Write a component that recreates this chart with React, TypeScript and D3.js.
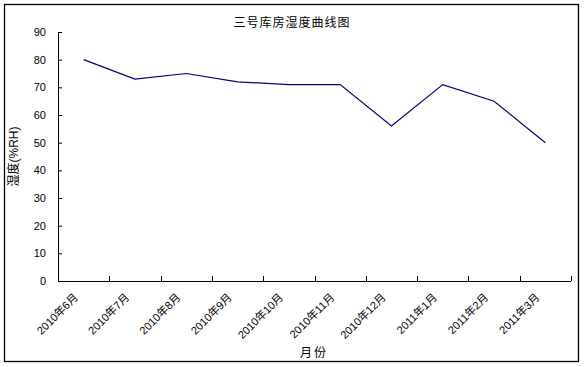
import * as React from "react";
import { useEffect, useRef } from "react";
import * as d3 from "d3";

const months = [
  "2010年6月",
  "2010年7月",
  "2010年8月",
  "2010年9月",
  "2010年10月",
  "2010年11月",
  "2010年12月",
  "2011年1月",
  "2011年2月",
  "2011年3月",
];
const humidity = [80, 73, 75, 72, 71, 71, 56, 71, 65, 50];
const yTicks = [0, 10, 20, 30, 40, 50, 60, 70, 80, 90];

const title = "三号库房湿度曲线图";
const yTitle = "湿度(%RH)";
const xTitle = "月份";

const W = 585;
const H = 367;
const left = 58;
const right = 571;
const top = 32;
const bottom = 281;
const font = "'Liberation Sans', Arial, 'Noto Sans CJK SC', sans-serif";

const App = () => {
  const ref = useRef<SVGSVGElement>(null);

  useEffect(() => {
    const svg = d3.select(ref.current);
    svg.selectAll("*").remove();

    const x = d3.scaleBand().domain(months).range([left, right]).padding(0);
    const y = d3.scaleLinear().domain([0, 90]).range([bottom, top]);
    const cx = (m: string) => (x(m) as number) + x.bandwidth() / 2;

    // outer frame
    svg
      .append("rect")
      .attr("x", 4.5)
      .attr("y", 4.5)
      .attr("width", 574)
      .attr("height", 357)
      .attr("fill", "#fff")
      .attr("stroke", "#000")
      .attr("stroke-width", 1.3);

    // y axis
    const yAxis = svg
      .append("g")
      .attr("transform", `translate(${left},0)`)
      .call(
        d3
          .axisLeft(y)
          .tickValues(yTicks)
          .tickSizeInner(-4)
          .tickSizeOuter(0)
          .tickPadding(12)
      );
    yAxis.select(".domain").attr("stroke", "#000");
    yAxis.selectAll("line").attr("stroke", "#000");
    yAxis
      .selectAll("text")
      .attr("font-family", font)
      .attr("font-size", 11)
      .attr("fill", "#000");

    // x axis line + ticks at band edges
    svg
      .append("line")
      .attr("x1", left)
      .attr("x2", right)
      .attr("y1", bottom + 0.5)
      .attr("y2", bottom + 0.5)
      .attr("stroke", "#000");
    const edges = months.map((m) => (x(m) as number)).concat([right]);
    svg
      .append("g")
      .selectAll("line")
      .data(edges)
      .enter()
      .append("line")
      .attr("x1", (d) => Math.round(d) + 0.5)
      .attr("x2", (d) => Math.round(d) + 0.5)
      .attr("y1", bottom)
      .attr("y2", bottom - 5)
      .attr("stroke", "#000");

    // x tick labels, rotated
    svg
      .append("g")
      .selectAll("text")
      .data(months)
      .enter()
      .append("text")
      .attr("transform", (d) => `translate(${cx(d) - 7},296) rotate(-45)`)
      .attr("text-anchor", "end")
      .attr("dominant-baseline", "middle")
      .attr("font-family", font)
      .attr("font-size", 11)
      .text((d) => d);

    // line
    const line = d3
      .line<number>()
      .x((d, i) => cx(months[i]))
      .y((d) => y(d));
    svg
      .append("path")
      .datum(humidity)
      .attr("d", line)
      .attr("fill", "none")
      .attr("stroke", "#000080")
      .attr("stroke-width", 1.2);

    // titles
    svg
      .append("text")
      .attr("x", 292)
      .attr("y", 27)
      .attr("text-anchor", "middle")
      .attr("font-family", font)
      .attr("font-size", 12)
      .attr("letter-spacing", 1)
      .text(title);
    svg
      .append("text")
      .attr("transform", `translate(18,${(top + bottom) / 2}) rotate(-90)`)
      .attr("text-anchor", "middle")
      .attr("font-family", font)
      .attr("font-size", 12)
      .text(yTitle);
    svg
      .append("text")
      .attr("x", 314)
      .attr("y", 357)
      .attr("text-anchor", "middle")
      .attr("font-family", font)
      .attr("font-size", 12)
      .attr("letter-spacing", 2)
      .text(xTitle);
  }, []);

  return (
    <svg
      ref={ref}
      width={W}
      height={H}
      style={{ position: "absolute", left: 0, top: 0, background: "#fff" }}
    />
  );
};

export default App;
